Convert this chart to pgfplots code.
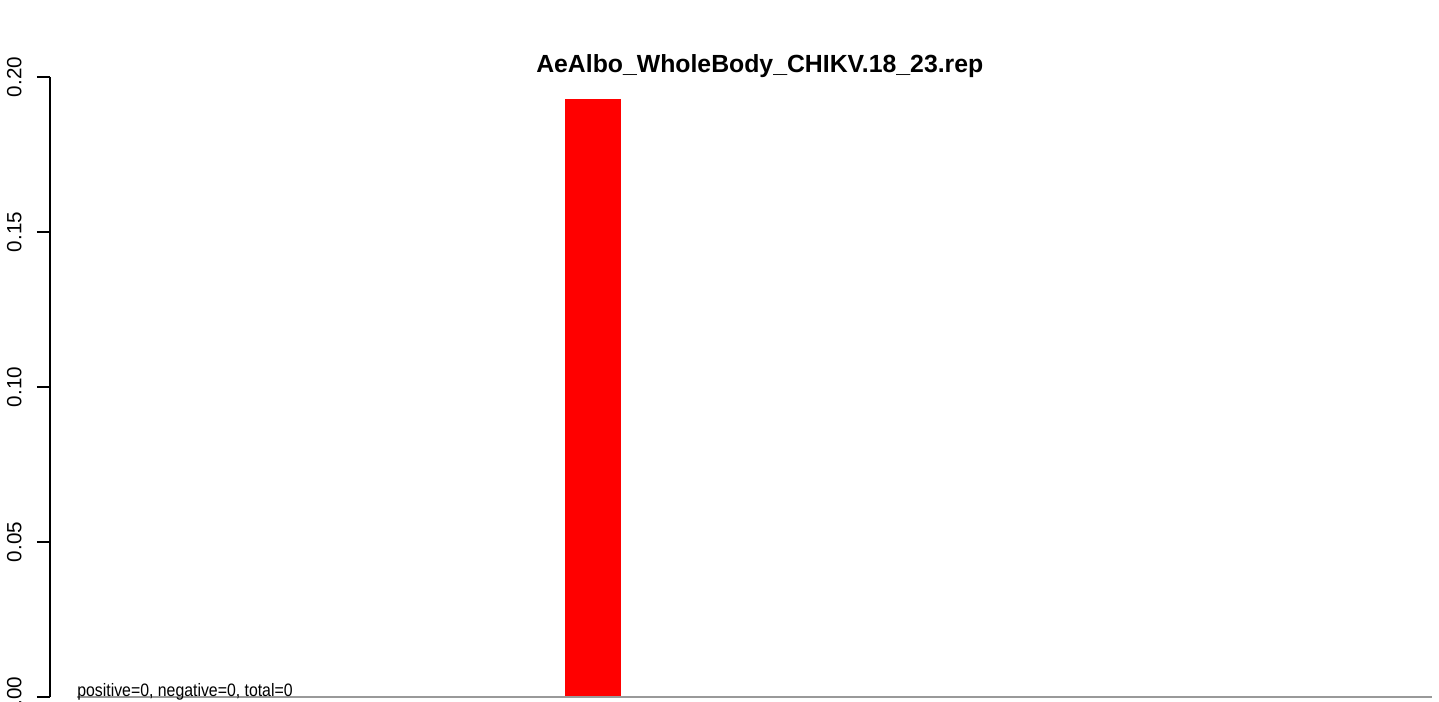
\documentclass[border=0pt]{standalone}
\usepackage{fontspec}
\setmainfont{Liberation Sans}
\usepackage{pgfplots}
\pgfplotsset{compat=1.18}
\begin{document}
\begin{tikzpicture}
\begin{axis}[
  scale only axis,
  width=694.5pt, height=310pt,
  at={(0,0)}, anchor=south west,
  xmin=-0.482, xmax=24.32,
  ymin=0, ymax=0.2,
  axis x line=none,
  axis y line=left,
  y axis line style={-, line width=0.8pt},
  ytick={0,0.05,0.1,0.15,0.2},
  ytick align=outside,
  major tick length=6.5pt,
  ytick style={line width=0.8pt, black},
  yticklabel style={rotate=90, anchor=south, inner sep=0pt,
    font=\fontsize{10.3}{12}\selectfont,
    /pgf/number format/fixed, /pgf/number format/fixed zerofill,
    /pgf/number format/precision=2,
    /pgf/number format/assume math mode=true},
  yticklabel shift=7.5pt,
  clip=false,
  title={AeAlbo\_WholeBody\_CHIKV.18\_23.rep},
  title style={at={(rel axis cs:0.511,1)}, anchor=base, yshift=-4pt, inner sep=0pt,
    font=\fontsize{12.4}{14}\selectfont\bfseries},
]
\addplot[ybar, bar width=1, fill=red, draw=none] coordinates {(9.214,0.1929)};
\addplot[color=black!40, line width=1pt] coordinates {(0,0) (24.196,0)};
\node[anchor=base west, inner sep=0pt, xscale=0.88, font=\fontsize{9}{10}\selectfont] at (axis cs:0,0) {positive=0, negative=0, total=0};
\end{axis}
\pgfresetboundingbox
\path (-25pt,-2pt) rectangle (694.5pt,348.5pt);
\end{tikzpicture}
\end{document}
